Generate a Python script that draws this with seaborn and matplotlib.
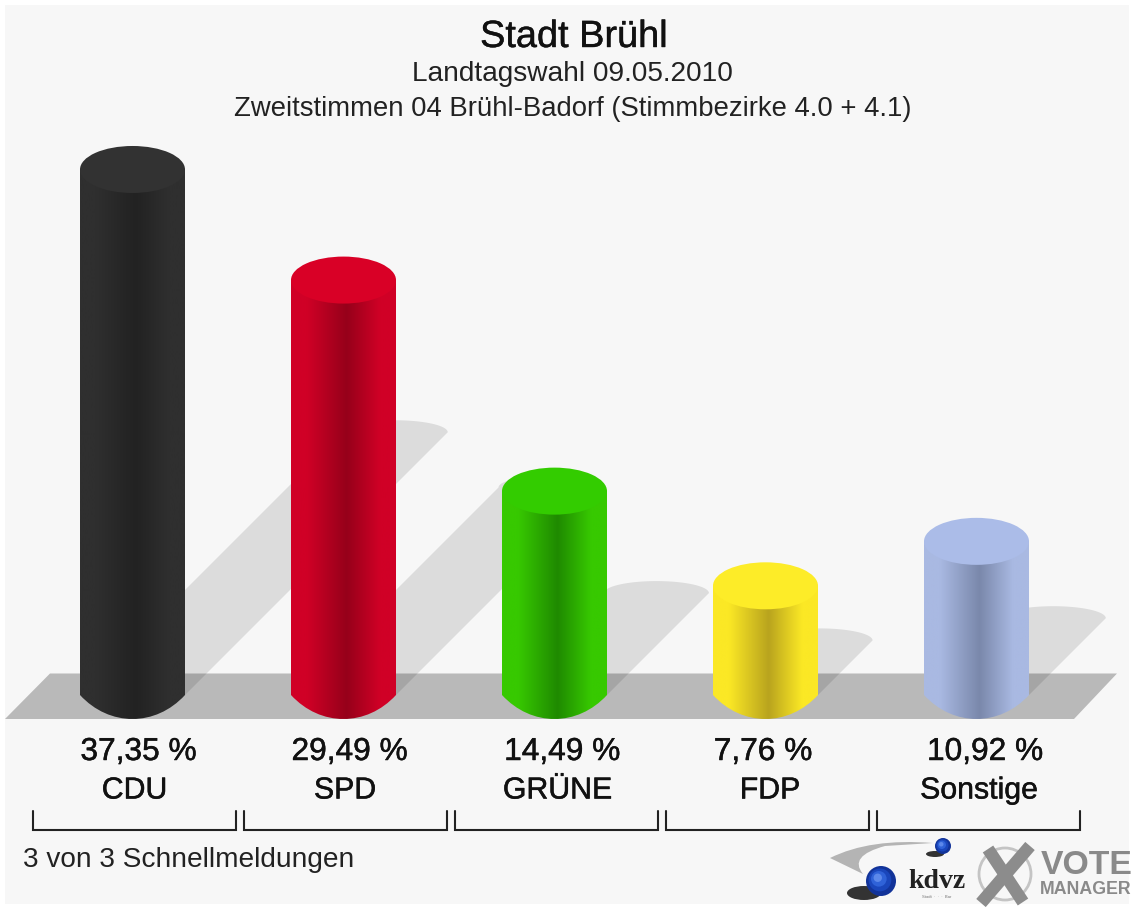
import numpy as np
import seaborn as sns
import matplotlib
matplotlib.use("Agg")
import matplotlib.pyplot as plt
import matplotlib.patheffects as pe
from matplotlib.colors import LinearSegmentedColormap
from matplotlib.patches import Ellipse, Polygon, Rectangle, PathPatch
from matplotlib.path import Path

parties = ["CDU", "SPD", "GRÜNE", "FDP", "Sonstige"]
values = [37.35, 29.49, 14.49, 7.76, 10.92]

title = "Stadt Brühl"
subtitle1 = "Landtagswahl 09.05.2010"
subtitle2 = "Zweitstimmen 04 Brühl-Badorf (Stimmbezirke 4.0 + 4.1)"
footer = "3 von 3 Schnellmeldungen"

# side colour, centre colour, cap colour
side_colors = ["#2f2f2f", "#d00026", "#37c900", "#fbe825", "#a9b9e2"]
mid_colors = ["#222222", "#96001a", "#1f8a00", "#b9a41e", "#7a88ab"]
cap_colors = ["#323232", "#d90026", "#33cc00", "#fdec28", "#abbce8"]

# labels sit a bit off the bar centre in the original (pixels)
value_dx = [6, 6, 7.5, -2.5, 8.5]
party_dx = [2, 1.5, 3, 4.5, 2.5]

# scale of the picture: pixels per category / per percent point
ppx = 211.0
ppy = 14.07
x0_px = 132.5
y0_px = 695.0
bar_w = 105 / ppx
cap_h = 47 / ppy


def px(x, y):
    # picture pixel -> data coords
    return (x - x0_px) / ppx, (y0_px - y) / ppy


sns.set_theme(style="white")
plt.rcParams["font.family"] = ["Liberation Sans", "DejaVu Sans"]

fig = plt.figure(figsize=(11.33, 9.09), dpi=100, facecolor="white")
ax = fig.add_axes([0, 0, 1, 1])

sns.barplot(x=parties, y=values, hue=parties, palette=side_colors, width=bar_w,
            dodge=False, legend=False, saturation=1, linewidth=0, ax=ax)
bars = list(ax.patches)

# background panel and floor
ax.add_patch(Rectangle(px(5, 904), 1124 / ppx, 899 / ppy, fc="#f7f7f7", ec="none", zorder=0))
floor = [px(5, 719), px(1074, 719), px(1117, 673.5), px(50, 673.5)]
ax.add_patch(Polygon(floor, closed=True, fc="#b9b9b9", ec="none", zorder=1))

# shadows, half as long as the bar, at 45 degrees
for i, v in enumerate(values):
    dy = v / 2
    dx = dy * ppy / ppx
    t = np.linspace(np.pi, 0, 40)
    arc_x = i + dx + bar_w / 2 * np.cos(t)
    arc_y = dy + 12 / ppy * np.sin(t)
    pts = [(i - bar_w / 2, 0)] + list(zip(arc_x, arc_y)) + [(i + bar_w / 2, 0)]
    ax.add_patch(Polygon(pts, closed=True, fc="black", alpha=0.105, ec="none", zorder=2))

# cylinders: gradient clipped to the seaborn bars, round foot and flat cap
grad = np.linspace(0, 1, 256).reshape(1, -1)
foot_depth = 32 / ppy
for i, v in enumerate(values):
    cmap = LinearSegmentedColormap.from_list(
        "cyl" + str(i),
        [(0, side_colors[i]), (0.15, side_colors[i]), (0.53, mid_colors[i]),
         (0.85, side_colors[i]), (1, side_colors[i])])
    bars[i].set_zorder(3)
    left, right = i - bar_w / 2, i + bar_w / 2
    foot_path = Path([(left, 0), (left + 0.28 * bar_w, -foot_depth), (right - 0.28 * bar_w, -foot_depth),
                      (right, 0), (left, 0)],
                     [Path.MOVETO, Path.CURVE4, Path.CURVE4, Path.CURVE4, Path.CLOSEPOLY])
    foot = PathPatch(foot_path, fc="none", ec="none")
    ax.add_patch(foot)
    im = ax.imshow(grad, cmap=cmap, extent=[left, right, 0, v], aspect="auto", zorder=4)
    im.set_clip_path(bars[i])
    im2 = ax.imshow(grad, cmap=cmap, extent=[left, right, -foot_depth, 0.5], aspect="auto", zorder=3.5)
    im2.set_clip_path(foot)
    ax.add_patch(Ellipse((i, v), bar_w, cap_h, fc=cap_colors[i], ec="none", zorder=5))

# value and party labels
bold_look = [pe.withStroke(linewidth=0.35, foreground="#111111")]
for i, v in enumerate(values):
    label = f"{v:.2f}".replace(".", ",") + " %"
    ax.text(i + value_dx[i] / ppx, px(0, 752)[1], label, ha="center", va="center", fontsize=22.8,
            color="#111111", path_effects=bold_look)
    ax.text(i + party_dx[i] / ppx, px(0, 790.5)[1], parties[i], ha="center", va="center", fontsize=21.8,
            color="#111111", path_effects=bold_look)
    # bracket below each party
    mid = i + 2 / ppx
    half = 101.5 / ppx
    ax.plot([mid - half, mid - half, mid + half, mid + half],
            [px(0, 811)[1], px(0, 829.5)[1], px(0, 829.5)[1], px(0, 811)[1]],
            color="#222222", lw=1.5, solid_joinstyle="miter", zorder=3)

# titles
ax.text(px(574, 0)[0], px(0, 37)[1], title, ha="center", va="center", fontsize=27.3, color="#111111",
        path_effects=[pe.withStroke(linewidth=0.3, foreground="#111111")])
ax.text(px(572, 0)[0], px(0, 74)[1], subtitle1, ha="center", va="center", fontsize=20.2, color="#222222")
ax.text(px(573, 0)[0], px(0, 109)[1], subtitle2, ha="center", va="center", fontsize=19.8, color="#222222")
ax.text(px(23, 0)[0], px(0, 860)[1], footer, ha="left", va="center", fontsize=20.2, color="#222222")

# logos at the lower right
swoosh = Path([px(933, 843), px(870, 838), px(830, 858), px(863, 874),
               px(848, 856), px(885, 846), px(933, 843)],
              [Path.MOVETO, Path.CURVE3, Path.CURVE3, Path.LINETO,
               Path.CURVE3, Path.CURVE3, Path.CLOSEPOLY])
ax.add_patch(PathPatch(swoosh, fc="#b4b4b4", ec="none", zorder=3))
ax.add_patch(Ellipse(px(864, 893), 34 / ppx, 14 / ppy, fc="#333333", ec="none", zorder=3))
ax.add_patch(Ellipse(px(935, 854), 18 / ppx, 6 / ppy, fc="#333333", ec="none", zorder=3))
for cxp, cyp, r in [(881, 881, 15), (943, 846, 8)]:
    for k, col in enumerate(["#123399", "#1a46bb", "#2f62d8", "#5c88ea"]):
        s = 1 - k * 0.24
        off = (1 - s) * r * 0.3
        ax.add_patch(Ellipse(px(cxp - off, cyp - off), 2 * r * s / ppx, 2 * r * s / ppy,
                             fc=col, ec="none", zorder=4 + k * 0.1))
ax.text(*px(937, 882), "kdvz", ha="center", va="center", fontsize=20, fontweight="bold",
        family=["Liberation Serif"], color="#222222")
ax.text(*px(937, 897), "Stadt  ·  ·  ·  Bar", ha="center", va="center", fontsize=3, color="#777777")

ax.add_patch(Ellipse(px(1005, 874), 52 / ppx, 52 / ppy, fc="none", ec="#c4c4c4", lw=2, zorder=3))
for a, b in [((988, 849), (1023, 902)), ((1030, 846), (981, 903))]:
    xs, ys = zip(px(*a), px(*b))
    ax.plot(xs, ys, color="#8c8c8c", lw=9, solid_capstyle="butt", zorder=4)
ax.text(*px(1041, 866), "VOTE", ha="left", va="center", fontsize=24.3, fontweight="bold", color="#8a8a8a")
ax.text(*px(1040, 890), "MANAGER", ha="left", va="center", fontsize=12.8, fontweight="bold", color="#8a8a8a")

ax.set_xlim(-x0_px / ppx, (1133 - x0_px) / ppx)
ax.set_ylim((y0_px - 909) / ppy, y0_px / ppy)
ax.axis("off")

fig.savefig("out.png", dpi=100, facecolor="white")
